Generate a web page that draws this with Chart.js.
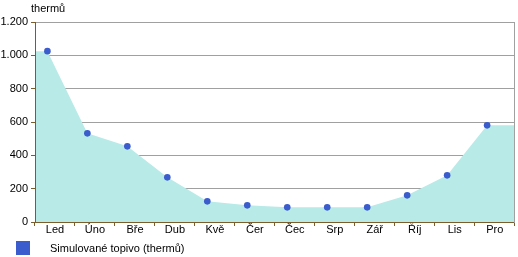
<!DOCTYPE html>
<html>
<head>
<meta charset="utf-8">
<script src="https://cdn.jsdelivr.net/npm/chart.js@4"></script>
<style>
  html, body { margin: 0; padding: 0; background: #fff; }
</style>
</head>
<body>
<canvas id="grafico" width="518" height="257"></canvas>
<script>
const mesice = ["Led", "Úno", "Bře", "Dub", "Kvě", "Čer", "Čec", "Srp", "Zář", "Říj", "Lis", "Pro"];
const topivo = [1025, 532, 454, 268, 124, 100, 88, 88, 88, 160, 280, 580];
const osaY = [0, 200, 400, 600, 800, 1000, 1200];
const jednotka = "thermů";
const popisek = "Simulované topivo (thermů)";

const font = "Liberation Sans, Arial, sans-serif";
const barvaOsy = "#7b5c2a";
const barvaMrizky = "#a0a0a0";
const barvaBodu = "#3a5ccc";
const barvaPlochy = "#b8eae8";

// bodova pozice je v kategorii posunuta doleva
const xMin = -0.31;
const xMax = 11.69;

const body = topivo.map((v, i) => ({ x: i, y: v }));
const plocha = [{ x: xMin, y: topivo[0] }].concat(body, [{ x: xMax, y: topivo[topivo.length - 1] }]);

const popisky = {
    id: "popisky",
    afterDraw(chart) {
        const ctx = chart.ctx;
        ctx.save();
        ctx.fillStyle = "#000";
        ctx.font = "11px " + font;
        ctx.textBaseline = "alphabetic";
        ctx.textAlign = "left";
        ctx.fillText(jednotka, 31, 12);
        ctx.fillStyle = barvaBodu;
        ctx.fillRect(16, 241, 14, 14);
        ctx.fillStyle = "#000";
        ctx.fillText(chart.data.datasets[0].label, 50, 252);
        ctx.restore();
    }
};

const config = {
    type: "line",
    data: {
        labels: mesice,
        datasets: [
            {
                label: popisek,
                data: body,
                xAxisID: "x2",
                showLine: false,
                pointRadius: 3.3,
                pointHoverRadius: 3.3,
                pointBackgroundColor: barvaBodu,
                pointBorderColor: barvaBodu,
                pointBorderWidth: 0,
                order: 0
            },
            {
                label: "plocha",
                data: plocha,
                xAxisID: "x2",
                borderWidth: 0,
                borderColor: barvaPlochy,
                backgroundColor: barvaPlochy,
                fill: "origin",
                pointRadius: 0,
                tension: 0,
                order: 1
            }
        ]
    },
    options: {
        responsive: false,
        animation: false,
        layout: { padding: { top: 22, left: 0, right: 0, bottom: 0 } },
        plugins: {
            legend: { display: false },
            title: { display: false },
            tooltip: { enabled: false }
        },
        scales: {
            x: {
                type: "category",
                offset: true,
                grid: {
                    offset: true,
                    drawOnChartArea: false,
                    drawTicks: true,
                    tickLength: 4,
                    tickColor: barvaOsy
                },
                border: { color: barvaOsy, width: 1, z: 1 },
                ticks: {
                    color: "#000",
                    font: { family: font, size: 11 },
                    padding: -3,
                    maxRotation: 0,
                    autoSkip: false
                },
                afterFit(scale) { scale.height = 35; }
            },
            x2: {
                type: "linear",
                display: false,
                min: xMin,
                max: xMax
            },
            y: {
                min: osaY[0],
                max: osaY[osaY.length - 1],
                afterBuildTicks(scale) {
                    scale.ticks = osaY.map(v => ({ value: v }));
                },
                grid: {
                    color: barvaMrizky,
                    tickColor: barvaOsy,
                    tickLength: 4,
                    drawTicks: true
                },
                border: { color: barvaOsy, width: 1, z: 1 },
                ticks: {
                    color: "#000",
                    font: { family: font, size: 11 },
                    padding: 3,
                    callback: v => v.toLocaleString("de-DE")
                },
                afterFit(scale) { scale.width = 35; }
            },
            y2: {
                position: "right",
                min: 0,
                max: 1200,
                grid: { drawOnChartArea: false, drawTicks: false },
                border: { color: barvaMrizky, width: 1, z: 1 },
                ticks: { display: false },
                afterFit(scale) { scale.width = 3; }
            }
        }
    },
    plugins: [popisky]
};

const myChart = new Chart(document.getElementById("grafico"), config);
</script>
</body>
</html>
